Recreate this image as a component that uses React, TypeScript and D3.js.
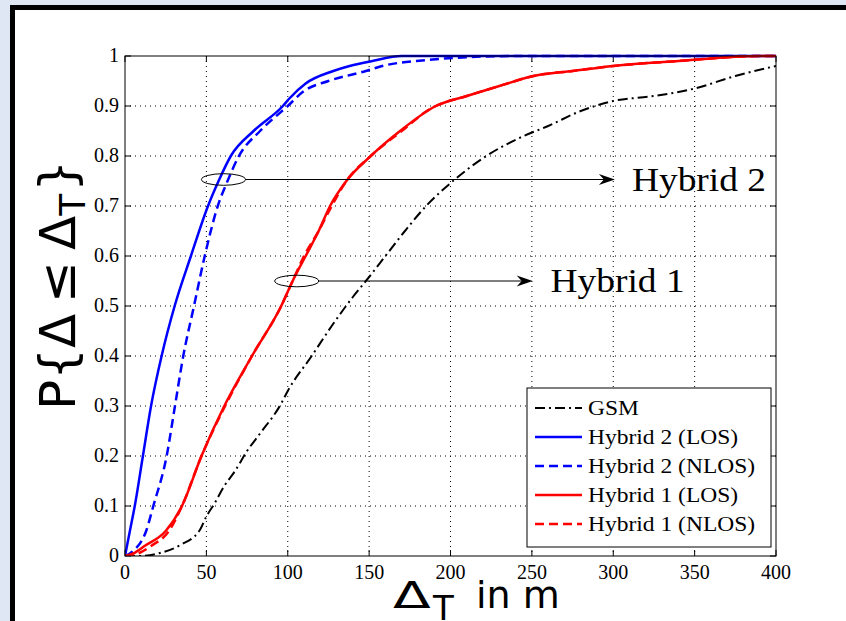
import React from "react";
import * as d3 from "d3";

// ---- data ----
const xTicks = [0, 50, 100, 150, 200, 250, 300, 350, 400];
const yTicks = [0, 0.1, 0.2, 0.3, 0.4, 0.5, 0.6, 0.7, 0.8, 0.9, 1];
const yTickLabels = ["0", "0.1", "0.2", "0.3", "0.4", "0.5", "0.6", "0.7", "0.8", "0.9", "1"];

const gsm: [number, number][] = [
  [0, 0], [9, 0], [21.5, 0.006], [34, 0.022], [46, 0.052], [50, 0.079], [55, 0.105],
  [61, 0.14], [67.6, 0.17], [75, 0.21], [83, 0.245], [96, 0.305], [100, 0.33], [114.7, 0.4],
  [127, 0.46], [140, 0.518], [148.5, 0.552], [160, 0.6], [172, 0.65], [185, 0.7],
  [203, 0.754], [222, 0.8], [245, 0.84], [260, 0.86], [280, 0.89], [300, 0.91], [325, 0.92],
  [350, 0.935], [375, 0.96], [400, 0.98],
];
const hybrid2Los: [number, number][] = [
  [0, 0], [3, 0.05], [6, 0.1], [11, 0.2], [16, 0.3], [22.5, 0.4], [30.5, 0.5], [40.5, 0.6],
  [51, 0.7], [57.5, 0.75], [65, 0.8], [79, 0.85], [97, 0.9], [101, 0.915],
  [111, 0.945], [128, 0.97], [138, 0.98], [152, 0.99], [170, 1.0], [400, 1],
];
const hybrid2Nlos: [number, number][] = [
  [0, 0], [5, 0.01], [13, 0.05], [17.4, 0.1], [25.6, 0.2], [30.7, 0.3], [35.8, 0.4],
  [42.4, 0.5], [49, 0.6], [57, 0.7], [63, 0.75], [70, 0.8], [83, 0.85], [100, 0.9],
  [110, 0.93], [125, 0.95], [148, 0.97], [158, 0.98], [179, 0.99], [240, 1.0], [400, 1],
];
const hybrid1Los: [number, number][] = [
  [0, 0], [5, 0.005], [12, 0.02], [25, 0.05], [35, 0.1], [47, 0.2], [61, 0.3], [78, 0.4],
  [96, 0.5], [103, 0.55], [111, 0.6], [119, 0.65], [126, 0.7], [136, 0.75], [151, 0.8],
  [169, 0.85], [191, 0.9], [210, 0.92], [230, 0.94], [251, 0.96], [275, 0.97], [300, 0.98],
  [340, 0.99], [390, 1.0], [400, 1],
];
const hybrid1Nlos: [number, number][] = [
  [0, 0], [8, 0.005], [16, 0.02], [27, 0.05], [35, 0.1], [47, 0.2], [61.5, 0.3], [78, 0.4],
  [96, 0.5], [103, 0.55], [110, 0.6], [119, 0.65], [127, 0.7], [136, 0.75], [151, 0.8],
  [170, 0.85], [188, 0.895], [191, 0.9], [210, 0.92], [230, 0.94], [251, 0.96], [275, 0.97],
  [300, 0.98], [340, 0.99], [392, 1.0], [400, 1],
];

const seriesNames = ["GSM", "Hybrid 2 (LOS)", "Hybrid 2 (NLOS)", "Hybrid 1 (LOS)", "Hybrid 1 (NLOS)"];
const seriesData = [gsm, hybrid2Los, hybrid2Nlos, hybrid1Los, hybrid1Nlos];

const annotationLabels = ["Hybrid 2", "Hybrid 1"];
const annotationPoints = [
  { cx: 60.5, cy: 0.753, tipX: 301, textX: 311.5 },
  { cx: 105.5, cy: 0.55, tipX: 250.5, textX: 261.5 },
];

// ---- styles ----
const styles = [
  { color: "#000000", dash: "10,4,2,4", width: 2 },
  { color: "#0000ff", dash: "", width: 2.5 },
  { color: "#0000ff", dash: "9,5", width: 2.5 },
  { color: "#ff0000", dash: "", width: 2.5 },
  { color: "#ff0000", dash: "9,5", width: 2.5 },
];

const W = 846;
const H = 621;
const M = { left: 125, right: 776, top: 56, bottom: 556 };

export default function App() {
  const x = d3.scaleLinear().domain([0, 400]).range([M.left, M.right]);
  const y = d3.scaleLinear().domain([0, 1]).range([M.bottom, M.top]);
  const line = d3
    .line<[number, number]>()
    .x((d) => x(d[0]))
    .y((d) => y(d[1]))
    .curve(d3.curveMonotoneX);

  const serif = "'Liberation Serif', 'Times New Roman', serif";
  const sans = "'DejaVu Sans', sans-serif";

  const legX = 527;
  const legY = 388;
  const legW = 244;
  const legH = 159;

  return (
    <div style={{ position: "absolute", left: 0, top: 0, width: W, height: H }}>
      <svg width={W} height={H} style={{ display: "block" }}>
        <rect x={0} y={0} width={W} height={H} fill="#dfe6f4" />
        <rect x={10} y={5} width={W - 10} height={H - 5} fill="#000" />
        <rect x={15} y={10} width={W - 15} height={H - 10} fill="#fff" />

        <defs>
          <clipPath id="plotclip">
            <rect x={M.left} y={M.top - 2} width={M.right - M.left} height={M.bottom - M.top + 2} />
          </clipPath>
        </defs>

        {/* grid */}
        {xTicks.slice(1, -1).map((t) => (
          <line key={"gx" + t} x1={x(t)} x2={x(t)} y1={M.top} y2={M.bottom} stroke="#000" strokeWidth={1} strokeDasharray="1,4" />
        ))}
        {yTicks.slice(1, -1).map((t) => (
          <line key={"gy" + t} x1={M.left} x2={M.right} y1={y(t)} y2={y(t)} stroke="#000" strokeWidth={1} strokeDasharray="1,4" />
        ))}

        {/* ticks */}
        {xTicks.map((t) => (
          <g key={"tx" + t}>
            <line x1={x(t)} x2={x(t)} y1={M.bottom} y2={M.bottom - 6} stroke="#000" />
            <line x1={x(t)} x2={x(t)} y1={M.top} y2={M.top + 6} stroke="#000" />
            <text x={x(t)} y={579} textAnchor="middle" fontFamily={serif} fontSize={20} fill="#000">
              {t}
            </text>
          </g>
        ))}
        {yTicks.map((t, i) => (
          <g key={"ty" + t}>
            <line x1={M.left} x2={M.left + 6} y1={y(t)} y2={y(t)} stroke="#000" />
            <line x1={M.right} x2={M.right - 6} y1={y(t)} y2={y(t)} stroke="#000" />
            <text x={119} y={y(t) + 6} textAnchor="end" fontFamily={serif} fontSize={20} fill="#000">
              {yTickLabels[i]}
            </text>
          </g>
        ))}

        {/* series */}
        <g clipPath="url(#plotclip)">
          {seriesData.map((d, i) => (
            <path
              key={"s" + i}
              d={line(d) || ""}
              fill="none"
              stroke={styles[i].color}
              strokeWidth={styles[i].width}
              strokeDasharray={styles[i].dash || undefined}
              strokeLinejoin="round"
            />
          ))}
        </g>

        {/* axes box */}
        <rect x={M.left} y={M.top} width={M.right - M.left} height={M.bottom - M.top} fill="none" stroke="#000" strokeWidth={1} />

        {/* annotations */}
        {annotationPoints.map((a, i) => {
          const cx = x(a.cx);
          const cy = y(a.cy);
          const tip = x(a.tipX);
          const tx = x(a.textX);
          return (
            <g key={"an" + i}>
              <ellipse cx={cx} cy={cy} rx={22} ry={5.8} fill="none" stroke="#000" strokeWidth={1} />
              <line x1={cx + 22} x2={tip - 6} y1={cy} y2={cy} stroke="#000" strokeWidth={1.2} />
              <path
                d={`M${tip},${cy} L${tip - 16},${cy - 5.5} L${tip - 11},${cy} L${tip - 16},${cy + 5.5} Z`}
                fill="#000"
              />
              <text
                transform={`translate(${tx},${cy + 11}) scale(1.1,1)`}
                fontFamily={serif}
                fontSize={34}
                fill="#000"
              >
                {annotationLabels[i]}
              </text>
            </g>
          );
        })}

        {/* legend */}
        <rect x={legX} y={legY} width={legW} height={legH} fill="#fff" stroke="#000" strokeWidth={1} />
        {seriesNames.map((name, i) => {
          const yy = legY + 20 + i * 29;
          return (
            <g key={"lg" + i}>
              <line
                x1={535}
                x2={582}
                y1={yy}
                y2={yy}
                stroke={styles[i].color}
                strokeWidth={styles[i].width}
                strokeDasharray={styles[i].dash || undefined}
              />
              <text
                transform={`translate(588,${yy + 7}) scale(1.12,1)`}
                fontFamily={serif}
                fontSize={21}
                fill="#000"
              >
                {name}
              </text>
            </g>
          );
        })}

        {/* axis labels */}
        <text transform="translate(393,608) scale(1.45,1)" fontFamily={sans} fontSize={38} fill="#000">
          Δ
        </text>
        <text x={433} y={620} fontFamily={sans} fontSize={34} fill="#000">
          T
        </text>
        <text x={476} y={608} fontFamily={sans} fontSize={38} fill="#000">
          in m
        </text>
        <text
          transform="translate(75,410) rotate(-90)"
          x={0}
          y={0}
          fontFamily={sans}
          fontSize={50}
          fill="#000"
        >
          <tspan>P{"{"}Δ</tspan>
          <tspan dx={11}>≤</tspan>
          <tspan dx={11}>Δ</tspan>
          <tspan fontSize={36} dy={10}>T</tspan>
          <tspan dy={-10} dx={2}>{"}"}</tspan>
        </text>
      </svg>
    </div>
  );
}
